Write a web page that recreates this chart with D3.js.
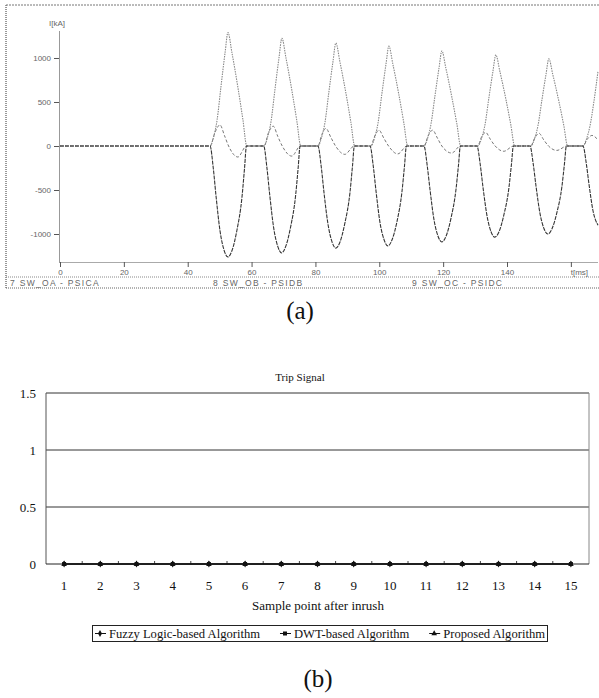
<!DOCTYPE html>
<html>
<head>
<meta charset="utf-8">
<script src="https://cdn.jsdelivr.net/npm/d3@7"></script>
<style>
body { margin: 0; background: #fff; }
svg { display: block; }
</style>
</head>
<body>
<div id="fig"></div>
<script>
// (a) inrush currents, [t ms, I]
var phaseA = [[0,0],[47.0,0],
  [48.1,100],[49.2,295],[50.4,670],[51.7,1060],[52.6,1290],[53.85,1060],[55.7,670],[57.3,295],[58.5,0],[63.9,0],
  [65.0,100],[66.1,280],[67.3,635],[68.6,1005],[69.5,1225],[70.75,1005],[72.6,635],[74.2,280],[75.4,0],[80.8,0],
  [81.9,95],[83.0,270],[84.2,610],[85.5,960],[86.4,1170],[87.65,960],[89.5,610],[91.1,270],[92.3,0],[97.4,0],
  [98.5,90],[99.6,260],[100.8,590],[102.1,930],[103.0,1135],[104.25,930],[106.1,590],[107.7,260],[108.9,0],[114.0,0],
  [115.1,85],[116.2,250],[117.4,560],[118.7,885],[119.6,1080],[120.85,885],[122.7,560],[124.3,250],[125.5,0],[130.9,0],
  [132.0,85],[133.1,240],[134.3,540],[135.6,850],[136.5,1035],[137.75,850],[139.6,540],[141.2,240],[142.4,0],[147.5,0],
  [148.6,80],[149.7,230],[150.9,515],[152.2,810],[153.1,990],[154.35,810],[156.2,515],[157.8,230],[159.0,0],[163.8,0],
  [164.9,80],[166.0,230],[167.2,500],[168.5,850]];

var phaseB = [[0,0],[47.0,0],
  [48.0,-250],[48.9,-580],[50.1,-960],[51.4,-1185],[52.6,-1260],[53.9,-1185],[55.4,-960],[57.0,-580],[57.8,-250],[58.4,0],[63.8,0],
  [64.8,-245],[65.7,-560],[66.9,-925],[68.2,-1140],[69.4,-1215],[70.7,-1140],[72.2,-925],[73.8,-560],[74.6,-245],[75.2,0],[80.8,0],
  [81.8,-230],[82.7,-535],[83.9,-880],[85.2,-1090],[86.4,-1160],[87.7,-1090],[89.2,-880],[90.8,-535],[91.6,-230],[92.2,0],[97.1,0],
  [98.1,-225],[99.0,-520],[100.2,-865],[101.5,-1065],[102.7,-1135],[104.0,-1065],[105.5,-865],[107.1,-520],[107.9,-225],[108.5,0],[114.0,0],
  [115.0,-220],[115.9,-500],[117.1,-830],[118.4,-1025],[119.6,-1090],[120.9,-1025],[122.4,-830],[124.0,-500],[124.8,-220],[125.4,0],[130.6,0],
  [131.6,-205],[132.5,-475],[133.7,-785],[135.0,-975],[136.2,-1035],[137.5,-975],[139.0,-785],[140.6,-475],[141.4,-205],[142.0,0],[147.2,0],
  [148.2,-200],[149.1,-460],[150.3,-760],[151.6,-940],[152.8,-1000],[154.1,-940],[155.6,-760],[157.2,-460],[158.0,-200],[158.6,0],[163.8,0],
  [164.8,-190],[165.7,-440],[166.9,-730],[168.5,-900]];

var phaseC = [[0,0],[47.0,0],
  [48.6,160],[50.1,240],[51.5,120],[52.8,0],[55.7,-125],[58.4,0],[63.9,0],
  [65.3,150],[66.8,225],[68.2,110],[69.6,0],[72.6,-115],[75.3,0],[80.8,0],
  [82.0,130],[83.3,200],[84.8,100],[86.3,0],[89.2,-95],[92.2,0],[97.3,0],
  [98.6,115],[99.9,180],[101.4,90],[102.9,0],[105.8,-90],[108.7,0],[114.0,0],
  [115.3,115],[116.7,180],[118.2,90],[119.6,0],[122.7,-80],[125.4,0],[130.8,0],
  [132.0,100],[133.3,155],[134.8,75],[136.3,0],[139.0,-60],[142.1,0],[147.4,0],
  [148.7,90],[150.0,145],[151.5,70],[153.0,0],[155.6,-50],[158.8,0],[163.8,0],
  [165.2,80],[166.6,120],[168.5,70]];

var currentTicks = [-1000, -500, 0, 500, 1000];
var timeTicks = [0, 20, 40, 60, 80, 100, 120, 140, 160];
var channelNames = ["7 SW_OA - PSICA", "8 SW_OB - PSIDB", "9 SW_OC - PSIDC"];

// (b) trip signal
var samplePoints = ["1","2","3","4","5","6","7","8","9","10","11","12","13","14","15"];
var fuzzyTrip =    [0,0,0,0,0,0,0,0,0,0,0,0,0,0,0];
var dwtTrip =      [0,0,0,0,0,0,0,0,0,0,0,0,0,0,0];
var proposedTrip = [0,0,0,0,0,0,0,0,0,0,0,0,0,0,0];
var tripTicks = [0, 0.5, 1, 1.5];
var algoNames = ["Fuzzy Logic-based Algorithm", "DWT-based Algorithm", "Proposed Algorithm"];

var serif = "'Liberation Serif', 'Times New Roman', serif",
    sans = "'Liberation Sans', Arial, sans-serif";

var svg = d3.select("#fig").append("svg")
    .attr("width", 599)
    .attr("height", 698);

svg.append("rect").attr("width", 599).attr("height", 698).attr("fill", "#fff");

// ---------- (a) ----------
var xA = d3.scaleLinear().domain([0, 168.5]).range([60, 598]),
    yA = d3.scaleLinear().domain([-1318, 1318]).range([262, 30]);

var pa = svg.append("g").attr("id", "panelA");

// frame
pa.append("line").attr("x1", 6).attr("x2", 6).attr("y1", 5).attr("y2", 288)
    .attr("stroke", "#333").attr("stroke-dasharray", "1,1");
pa.append("line").attr("x1", 6).attr("x2", 599).attr("y1", 5).attr("y2", 5)
    .attr("stroke", "#777").attr("stroke-dasharray", "2,1");
pa.append("line").attr("x1", 6).attr("x2", 599).attr("y1", 277).attr("y2", 277)
    .attr("stroke", "#888").attr("stroke-dasharray", "1,1");
pa.append("line").attr("x1", 6).attr("x2", 599).attr("y1", 288).attr("y2", 288)
    .attr("stroke", "#666").attr("stroke-dasharray", "1,1");

pa.selectAll(".chan").data(channelNames).enter().append("text")
    .attr("class", "chan")
    .attr("x", function(d, i) { return [10, 213, 412][i]; })
    .attr("y", 286)
    .style("font-family", sans)
    .style("font-size", "8.5px")
    .style("letter-spacing", "1.3px")
    .style("fill", "#666")
    .text(function(d) { return d; });

var yAxisA = pa.append("g")
    .attr("transform", "translate(59,0)")
    .call(d3.axisLeft(yA).tickValues(currentTicks).tickSize(5).tickSizeOuter(0).tickPadding(3)
        .tickFormat(function(d) { return String(d); }));
yAxisA.select(".domain").attr("stroke", "#333").attr("stroke-dasharray", "1,1");

var xAxisA = pa.append("g")
    .attr("transform", "translate(0,262)")
    .call(d3.axisBottom(xA).tickValues(timeTicks).tickSize(5).tickSizeOuter(0).tickPadding(2)
        .tickFormat(function(d) { return d === 160 ? "t[ms]" : String(d); }));
xAxisA.select(".domain").attr("stroke", "#555").attr("stroke-dasharray", "1,1");

[yAxisA, xAxisA].forEach(function(ax) {
  ax.selectAll(".tick line").attr("stroke", "#555");
  ax.selectAll("text").style("font-family", sans).style("font-size", "8px").style("fill", "#666");
});
xAxisA.selectAll(".tick text").filter(function(d) { return d === 160; }).attr("x", 8);

pa.append("text").attr("x", 49).attr("y", 26)
    .style("font-family", sans).style("font-size", "8px").style("fill", "#666")
    .text("I[kA]");

var lineA = d3.line()
    .x(function(d) { return xA(d[0]); })
    .y(function(d) { return yA(d[1]); })
    .curve(d3.curveMonotoneX);

pa.append("path").datum(phaseC).attr("d", lineA)
    .attr("fill", "none").attr("stroke", "#777").attr("stroke-width", 1).attr("stroke-dasharray", "3,2");
pa.append("path").datum(phaseA).attr("d", lineA)
    .attr("fill", "none").attr("stroke", "#888").attr("stroke-width", 1.1).attr("stroke-dasharray", "1.5,1");
pa.append("path").datum(phaseB).attr("d", lineA)
    .attr("fill", "none").attr("stroke", "#333").attr("stroke-width", 1.1).attr("stroke-dasharray", "4,1");

svg.append("text").attr("x", 300).attr("y", 319).attr("text-anchor", "middle")
    .style("font-family", serif).style("font-size", "25px").style("fill", "#111")
    .text("(a)");

// ---------- (b) ----------
var xB = d3.scaleBand().domain(samplePoints).range([46, 589]),
    yB = d3.scaleLinear().domain([0, 1.5]).range([564, 393]);

var pb = svg.append("g").attr("id", "panelB");

pb.append("text").attr("x", 300).attr("y", 381).attr("text-anchor", "middle")
    .style("font-family", serif).style("font-size", "11px").style("fill", "#111")
    .text("Trip Signal");

pb.selectAll(".grid").data(tripTicks.filter(function(d) { return d > 0; })).enter().append("line")
    .attr("x1", 46).attr("x2", 589)
    .attr("y1", function(d) { return yB(d); }).attr("y2", function(d) { return yB(d); })
    .attr("stroke", "#333").attr("stroke-width", 1);

pb.append("line").attr("x1", 46).attr("x2", 46).attr("y1", yB(1.5)).attr("y2", yB(0))
    .attr("stroke", "#555");
pb.append("line").attr("x1", 589).attr("x2", 589).attr("y1", yB(1.5)).attr("y2", yB(0))
    .attr("stroke", "#888");
pb.append("line").attr("x1", 46).attr("x2", 589).attr("y1", yB(0)).attr("y2", yB(0))
    .attr("stroke", "#222");

// ticks between categories
pb.selectAll(".xtick").data(samplePoints.slice(1)).enter().append("line")
    .attr("x1", function(d) { return xB(d); }).attr("x2", function(d) { return xB(d); })
    .attr("y1", yB(0)).attr("y2", yB(0) - 3)
    .attr("stroke", "#444");

pb.selectAll(".ylab").data(tripTicks).enter().append("text")
    .attr("x", 36).attr("y", function(d) { return yB(d) + 4.5; })
    .attr("text-anchor", "end")
    .style("font-family", serif).style("font-size", "13px").style("fill", "#111")
    .text(function(d) { return d; });

pb.selectAll(".xlab").data(samplePoints).enter().append("text")
    .attr("x", function(d) { return xB(d) + xB.bandwidth() / 2; }).attr("y", 590)
    .attr("text-anchor", "middle")
    .style("font-family", serif).style("font-size", "13px").style("fill", "#111")
    .text(function(d) { return d; });

pb.append("text").attr("x", 318).attr("y", 610).attr("text-anchor", "middle")
    .style("font-family", serif).style("font-size", "13px").style("fill", "#111")
    .text("Sample point after inrush");

var cx = function(d, i) { return xB(samplePoints[i]) + xB.bandwidth() / 2; };
var lineB = d3.line().x(cx).y(function(d) { return yB(d); });

var symFuzzy = d3.symbol().type(d3.symbolDiamond).size(14),
    symDwt = d3.symbol().type(d3.symbolSquare).size(16),
    symProp = d3.symbol().type(d3.symbolTriangle).size(14);

[[fuzzyTrip, symFuzzy], [proposedTrip, symProp], [dwtTrip, symDwt]].forEach(function(s) {
  pb.append("path").datum(s[0]).attr("d", lineB)
      .attr("fill", "none").attr("stroke", "#111").attr("stroke-width", 1);
  pb.selectAll(null).data(s[0]).enter().append("path")
      .attr("d", s[1])
      .attr("transform", function(d, i) { return "translate(" + cx(d, i) + "," + yB(d) + ")"; })
      .attr("fill", "#111");
});

// legend, items laid out from measured text widths
var boxL = 92, boxR = 547;
var lg = pb.append("g");
var box = lg.append("rect").attr("x", boxL + 0.5).attr("y", 625.5).attr("width", boxR - boxL).attr("height", 16)
    .attr("fill", "#fff").attr("stroke", "#222");
var legendSyms = [symFuzzy, symDwt, symProp];
var labels = algoNames.map(function(name) {
  return lg.append("text").attr("y", 638)
      .style("font-family", serif).style("font-size", "12.6px").style("fill", "#111")
      .text(name);
});
var widths = labels.map(function(t) { return t.node().getComputedTextLength(); });
var used = d3.sum(widths) + 3 * 15;
var gap = (boxR - boxL - 4 - used) / 2;
var pos = boxL + 2;
algoNames.forEach(function(name, i) {
  var mx = pos + 6;
  lg.append("line").attr("x1", mx - 5).attr("x2", mx + 6)
      .attr("y1", 633.5).attr("y2", 633.5).attr("stroke", "#111");
  lg.append("path").attr("d", legendSyms[i])
      .attr("transform", "translate(" + mx + ",633.5)").attr("fill", "#111");
  labels[i].attr("x", pos + 15);
  pos += 15 + widths[i] + gap;
});

svg.append("text").attr("x", 318).attr("y", 687).attr("text-anchor", "middle")
    .style("font-family", serif).style("font-size", "25px").style("fill", "#111")
    .text("(b)");
</script>
</body>
</html>
